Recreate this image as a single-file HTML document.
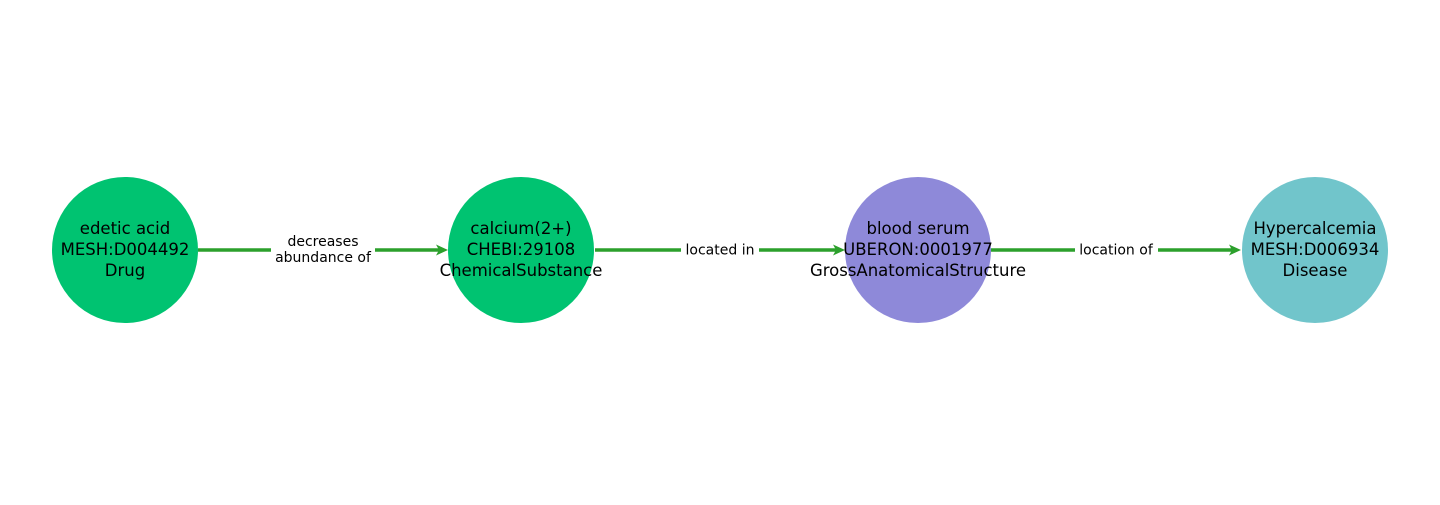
<!DOCTYPE html>
<html><head><style>body{margin:0;background:#fff}</style></head><body>
<svg width="1440" height="500" xmlns="http://www.w3.org/2000/svg" font-family="DejaVu Sans, sans-serif">
<g stroke="#2ca02c" stroke-width="3.5" fill="none">
<line x1="198" y1="250" x2="440" y2="250"/>
<line x1="595" y1="250" x2="837" y2="250"/>
<line x1="991" y1="250" x2="1233" y2="250"/>
</g>
<g fill="#2ca02c">
<polygon points="448,250 436,244.5 439,250 436,255.5"/>
<polygon points="845,250 833,244.5 836,250 833,255.5"/>
<polygon points="1241,250 1229,244.5 1232,250 1229,255.5"/>
</g>
<g fill="#fff">
<rect x="271" y="230" width="104" height="40"/>
<rect x="681" y="240" width="78" height="20"/>
<rect x="1075" y="240" width="83" height="20"/>
</g>
<g font-size="14" text-anchor="middle" fill="#000">
<text x="323" y="246">decreases</text>
<text x="323" y="262">abundance of</text>
<text x="720" y="254.5">located in</text>
<text x="1116" y="254.5">location of</text>
</g>
<circle cx="125" cy="250" r="73" fill="#00c371"/>
<circle cx="521" cy="250" r="73" fill="#00c371"/>
<circle cx="918" cy="250" r="73" fill="#8e89d9"/>
<circle cx="1315" cy="250" r="73" fill="#71c5cb"/>
<g font-size="16.5" text-anchor="middle" fill="#000">
<text x="125" y="234">edetic acid</text><text x="125" y="255">MESH:D004492</text><text x="125" y="276">Drug</text>
<text x="521" y="234">calcium(2+)</text><text x="521" y="255">CHEBI:29108</text><text x="521" y="276">ChemicalSubstance</text>
<text x="918" y="234">blood serum</text><text x="918" y="255">UBERON:0001977</text><text x="918" y="276">GrossAnatomicalStructure</text>
<text x="1315" y="234">Hypercalcemia</text><text x="1315" y="255">MESH:D006934</text><text x="1315" y="276">Disease</text>
</g>
</svg>
</body></html>
